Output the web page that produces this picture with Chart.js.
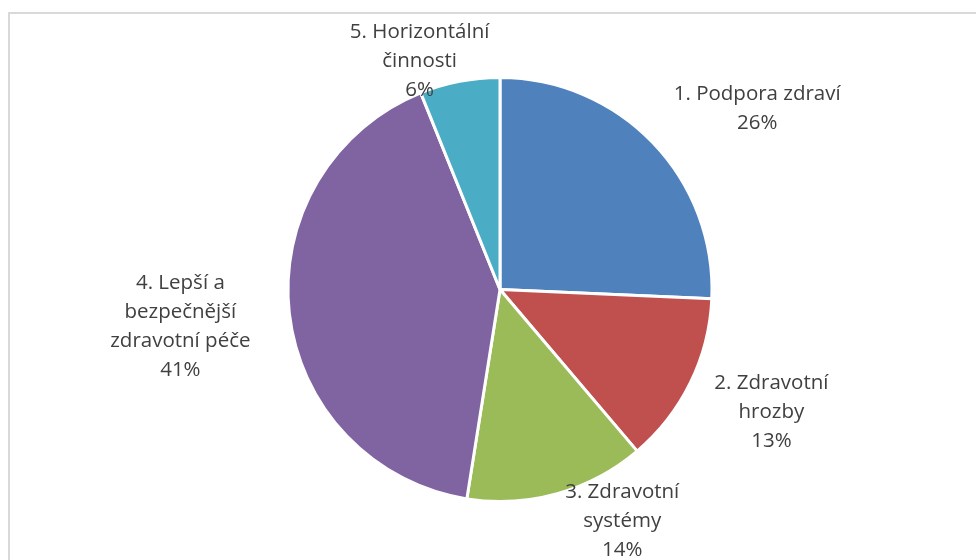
<!DOCTYPE html>
<html>
  <head>
    <meta charset="UTF-8" />
    <title>Podíl oblastí</title>
    <script src="https://cdn.jsdelivr.net/npm/chart.js"></script>
    <style>
      body {
        margin: 0;
        background: #fff;
      }
      .wrap {
        position: relative;
        width: 976px;
        height: 560px;
        overflow: hidden;
      }
      .frame {
        position: absolute;
        left: 8px;
        top: 12px;
        width: 1000px;
        height: 600px;
        border: 2px solid #d9d9d9;
        pointer-events: none;
      }
      canvas {
        position: absolute;
        left: 0;
        top: 0;
      }
    </style>
  </head>
  <body>
    <div class="wrap">
      <div class="frame"></div>
      <canvas id="pieChart" width="976" height="560"></canvas>
    </div>

    <script>
      // Categories (one entry per label line) and their shares in percent.
      const categories = [
        ["1. Podpora zdraví"],
        ["2. Zdravotní", "hrozby"],
        ["3. Zdravotní", "systémy"],
        ["4. Lepší a", "bezpečnější", "zdravotní péče"],
        ["5. Horizontální", "činnosti"]
      ];
      const shares = [25.7, 13.1, 13.7, 41.4, 6.1];
      const sliceColors = ["#4F81BD", "#C0504D", "#9BBB59", "#8064A2", "#4BACC6"];

      // Label nudges from the middle of each slice's outer edge (px).
      const labelNudge = [[104, -34], [81, 29], [65, 28], [-109, 13], [-40, -20]];

      // Draws the category name and percentage next to each slice.
      const outsideLabels = {
        id: "outsideLabels",
        afterDraw(chart) {
          const ctx = chart.ctx;
          const meta = chart.getDatasetMeta(0);
          const total = shares.reduce((a, b) => a + b, 0);
          const lineH = 29;
          ctx.save();
          ctx.font = "20.5px 'Open Sans'";
          ctx.fillStyle = "#404040";
          ctx.textAlign = "center";
          ctx.textBaseline = "middle";
          meta.data.forEach((arc, i) => {
            const p = arc.getProps(["x", "y", "startAngle", "endAngle", "outerRadius"], true);
            const mid = (p.startAngle + p.endAngle) / 2;
            const cx = p.x + Math.cos(mid) * p.outerRadius + labelNudge[i][0];
            const cy = p.y + Math.sin(mid) * p.outerRadius + labelNudge[i][1];
            const lines = categories[i].concat([Math.round(shares[i] / total * 100) + "%"]);
            const top = cy - (lines.length - 1) * lineH / 2;
            lines.forEach((t, k) => ctx.fillText(t, cx, top + k * lineH));
          });
          ctx.restore();
        }
      };

      new Chart(document.getElementById("pieChart").getContext("2d"), {
        type: "pie",
        data: {
          labels: categories.map(c => c.join(" ")),
          datasets: [{
            data: shares,
            backgroundColor: sliceColors,
            borderColor: "#ffffff",
            borderWidth: 3
          }]
        },
        options: {
          responsive: false,
          animation: false,
          layout: {
            padding: { top: 76, bottom: 57, left: 24, right: 0 }
          },
          plugins: {
            legend: { display: false },
            tooltip: { enabled: false }
          }
        },
        plugins: [outsideLabels]
      });
    </script>
  </body>
</html>
